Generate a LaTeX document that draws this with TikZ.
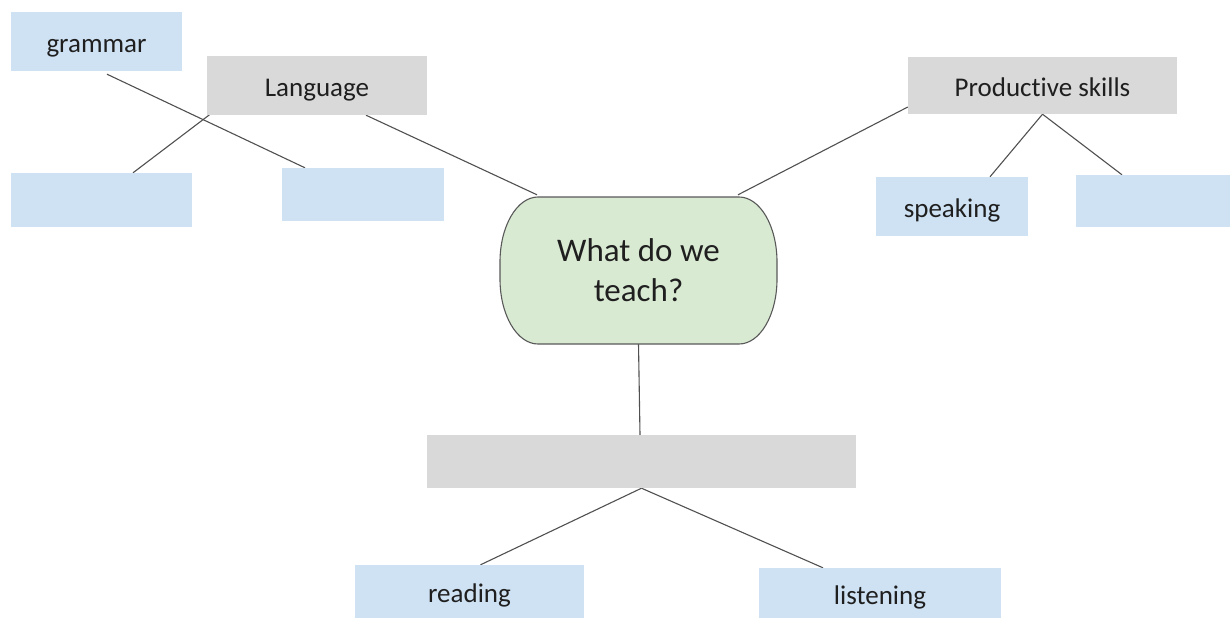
\documentclass[tikz,border=0pt]{standalone}
\usepackage{fontspec}
\setmainfont{Carlito}[Ligatures=NoCommon]
\usetikzlibrary{backgrounds}
\definecolor{bluebox}{HTML}{CFE2F3}
\definecolor{graybox}{HTML}{D9D9D9}
\definecolor{greenbox}{HTML}{D9EAD3}
\definecolor{txt}{HTML}{1F1F1F}
\definecolor{linec}{HTML}{505050}
\begin{document}
\begin{tikzpicture}[x=1pt,y=-1pt,
  box/.style={rectangle,inner sep=0pt,text=txt,font=\fontsize{27}{32}\selectfont,
    text height=26pt,text depth=4pt},
  bluenode/.style={box,fill=bluebox},
  graynode/.style={box,fill=graybox},
  conn/.style={draw=linec,line width=1.1pt}]
\useasboundingbox (0,0) rectangle (1230,618);
% center shape
\path[fill=greenbox,draw=black!65,line width=1.1pt]
  (538,197) -- (739,197) .. controls (760,197) and (777,226) .. (777,262)
  -- (777,279) .. controls (777,315) and (760,344) .. (739,344)
  -- (538,344) .. controls (517,344) and (500,315) .. (500,279)
  -- (500,262) .. controls (500,226) and (517,197) .. (538,197) -- cycle;
\node[inner sep=0pt,minimum width=277pt,minimum height=147pt,align=center,text=txt,
  font=\fontsize{33}{40}\selectfont] (center) at (638.5,270.5) {What do we\\teach?};
% boxes
\node[bluenode,minimum width=171pt,minimum height=59pt] (grammar) at (96.5,41.5) {grammar};
\node[graynode,minimum width=220pt,minimum height=59pt] (lang) at (317,85.5) {Language};
\node[bluenode,minimum width=181pt,minimum height=54pt] (lb) at (101.5,200) {};
\node[bluenode,minimum width=162pt,minimum height=53pt] (mb) at (363,194.5) {};
\node[graynode,minimum width=269pt,minimum height=57pt] (prod) at (1042.5,85.5) {Productive skills};
\node[bluenode,minimum width=152pt,minimum height=59pt] (speak) at (952,206.5) {speaking};
\node[bluenode,minimum width=154pt,minimum height=52pt] (rb) at (1153,201) {};
\node[graynode,minimum width=429pt,minimum height=53pt] (bottom) at (641.5,461.5) {};
\node[bluenode,minimum width=229pt,minimum height=53pt] (reading) at (469.5,591.5) {reading};
\node[bluenode,minimum width=242pt,minimum height=50pt] (listening) at (880,593) {listening};
% connectors
\begin{scope}[on background layer]
\draw[conn] ([xshift=10.5pt,yshift=-3pt]grammar.south) -- ([xshift=-58pt]mb.north);
\draw[conn] ([xshift=10pt,yshift=6pt]lang.south west) -- ([xshift=31.5pt]lb.north);
\draw[conn] ([xshift=49pt]lang.south) -- ([xshift=-101.5pt,yshift=2pt]center.north);
\draw[conn] ([yshift=-21.5pt]prod.west) -- ([xshift=99.5pt,yshift=2pt]center.north);
\draw[conn] (prod.south) -- ([xshift=38pt]speak.north);
\draw[conn] (prod.south) -- ([xshift=-31pt]rb.north);
\draw[conn] (center.south) -- ([xshift=-1.5pt]bottom.north);
\draw[conn] (bottom.south) -- ([xshift=11pt]reading.north);
\draw[conn] (bottom.south) -- ([xshift=-57pt]listening.north);
\end{scope}
\end{tikzpicture}
\end{document}
